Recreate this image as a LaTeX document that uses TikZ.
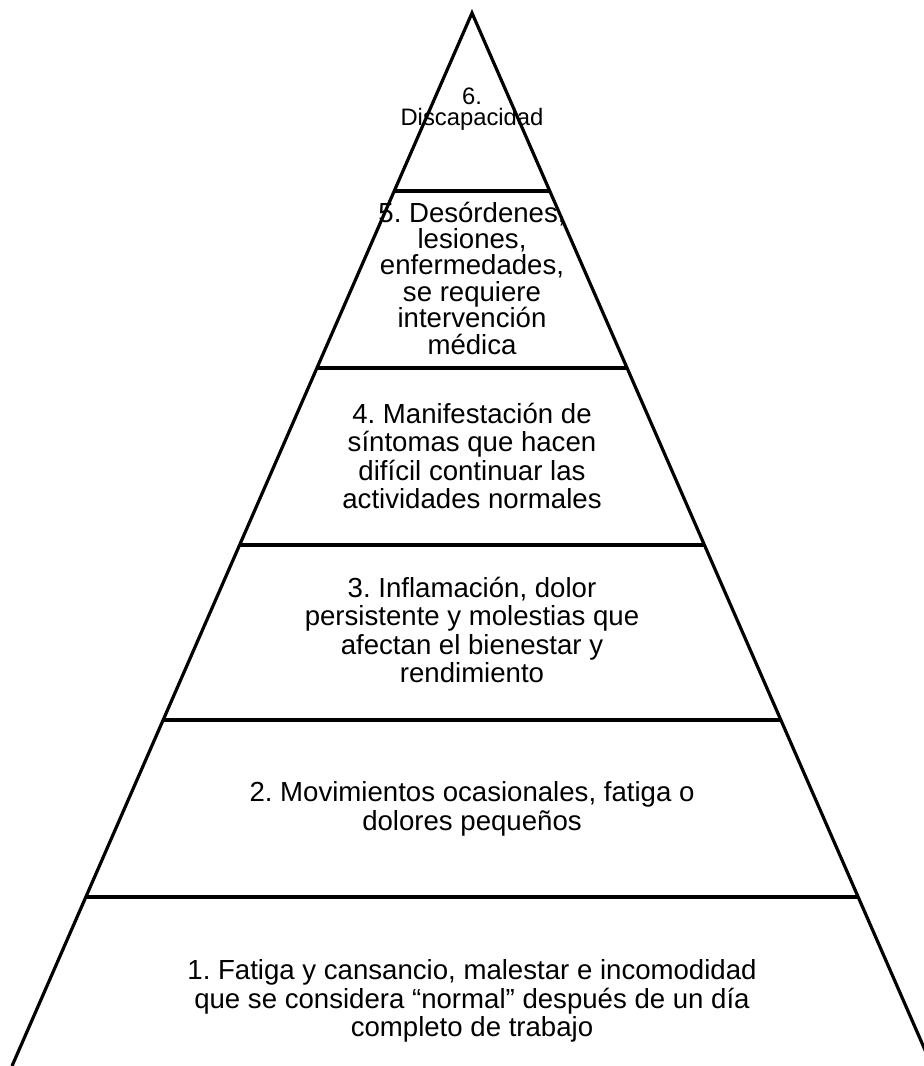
\documentclass[tikz,border=0pt]{standalone}
\usepackage{fontspec}
\setmainfont{Liberation Sans}
\usetikzlibrary{calc}
\frenchspacing

\begin{document}
\begin{tikzpicture}[x=0.5pt,y=-0.5pt,line width=1.6pt,
  levelbox/.style={align=center,inner sep=0pt,font=\fontsize{13.8}{14.2}\selectfont},
  tightbox/.style={levelbox,font=\fontsize{13.8}{13.2}\selectfont},
  topbox/.style={align=center,inner sep=0pt,font=\fontsize{11.9}{10.8}\selectfont}]
 \useasboundingbox (0,0) rectangle (924,1066);
 \clip (0,0) rectangle (924,1066);
 \coordinate (top) at (472,13);
 \coordinate (bl) at (12,1066);
 \coordinate (br) at (932,1066);
 \draw (bl) -- (top) -- (br);
 \foreach \y in {191,368,545,720,897}
  \draw ($(top)!{(\y-13)/1053}!(bl)$) -- ($(top)!{(\y-13)/1053}!(br)$);
 \node[topbox] (lvl6) at (472,109) {6.\\Discapacidad};
 \node[tightbox] (lvl5) at (472,278) {5. Desórdenes,\\lesiones,\\enfermedades,\\se requiere\\intervención\\médica};
 \node[levelbox] (lvl4) at (472,456) {4. Manifestación de\\síntomas que hacen\\difícil continuar las\\actividades normales};
 \node[levelbox] (lvl3) at (472,630) {3. Inflamación, dolor\\persistente y molestias que\\afectan el bienestar y\\rendimiento};
 \node[levelbox] (lvl2) at (472,809) {2. Movimientos ocasionales, fatiga o\\dolores pequeños};
 \node[levelbox] (lvl1) at (472,1001) {1. Fatiga y cansancio, malestar e incomodidad\\que se considera “normal” después de un día\\completo de trabajo};
\end{tikzpicture}
\end{document}
